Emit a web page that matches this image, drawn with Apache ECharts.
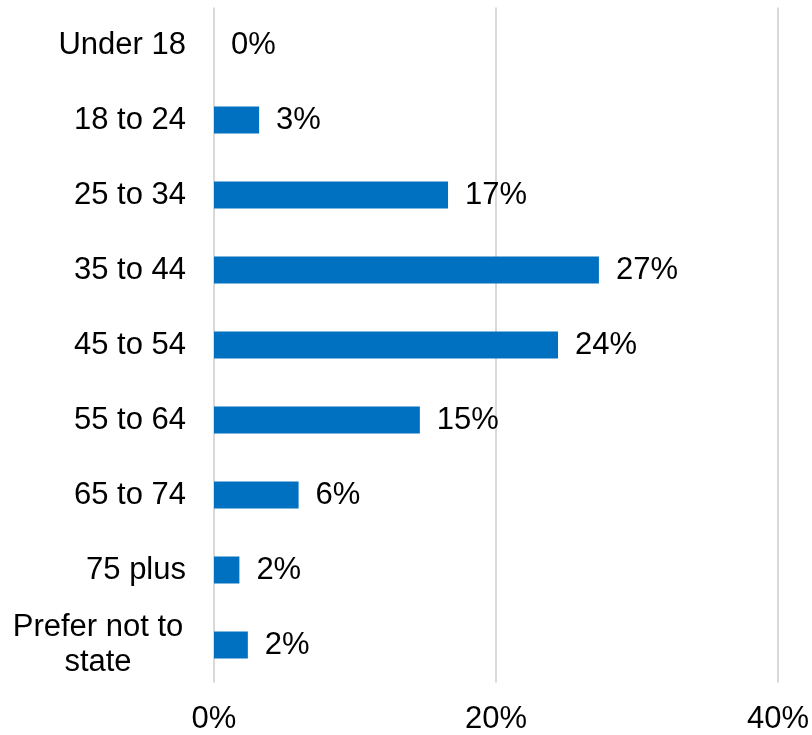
<!DOCTYPE html>
<html>
<head>
<meta charset="utf-8">
<script src="https://cdn.jsdelivr.net/npm/echarts@6/dist/echarts.min.js"></script>
<style>
  html, body { margin: 0; padding: 0; background: #fff; }
  #chart { width: 812px; height: 735px; }
</style>
</head>
<body>
<div id="chart"></div>
<script>
// Age groups, top to bottom
const categories = ['Under 18', '18 to 24', '25 to 34', '35 to 44', '45 to 54', '55 to 64', '65 to 74', '75 plus', 'Prefer not to state'];
// Share of respondents (%)
const shares = [0, 3.2, 16.6, 27.3, 24.4, 14.6, 6.0, 1.8, 2.4];
// Value axis ticks (%)
const xTicks = [0, 20, 40];

const FONT = '"Liberation Sans", Arial, sans-serif';
const SIZE = 31;

const chart = echarts.init(document.getElementById('chart'), null, { renderer: 'canvas' });
chart.setOption({
  animation: false,
  backgroundColor: '#ffffff',
  grid: { left: 214, right: 34, top: 7.5, bottom: 52.5, containLabel: false },
  xAxis: {
    type: 'value',
    min: xTicks[0],
    max: xTicks[xTicks.length - 1],
    interval: xTicks[1] - xTicks[0],
    axisLine: { show: false },
    axisTick: { show: false },
    splitLine: { show: true, lineStyle: { color: '#d9d9d9', width: 2 } },
    axisLabel: {
      formatter: v => v + '%',
      color: '#000',
      fontFamily: FONT,
      fontSize: SIZE,
      margin: 21
    }
  },
  yAxis: {
    type: 'category',
    inverse: true,
    data: categories,
    axisLine: { show: false },
    axisTick: { show: false },
    splitLine: { show: false },
    axisLabel: {
      color: '#000',
      fontFamily: FONT,
      fontSize: SIZE,
      margin: 28,
      formatter: v => v === 'Prefer not to state' ? '{c|Prefer not to}\n{c|state}' : v,
      rich: {
        c: { width: 176, align: 'center', fontFamily: FONT, fontSize: SIZE, color: '#000', lineHeight: 35 }
      }
    }
  },
  series: [{
    type: 'bar',
    data: shares,
    barWidth: '36%',
    itemStyle: { color: '#0070c0' },
    label: {
      show: true,
      position: 'right',
      distance: 17,
      color: '#000',
      fontFamily: FONT,
      fontSize: SIZE,
      formatter: p => Math.round(p.value) + '%'
    }
  }]
});
</script>
</body>
</html>
